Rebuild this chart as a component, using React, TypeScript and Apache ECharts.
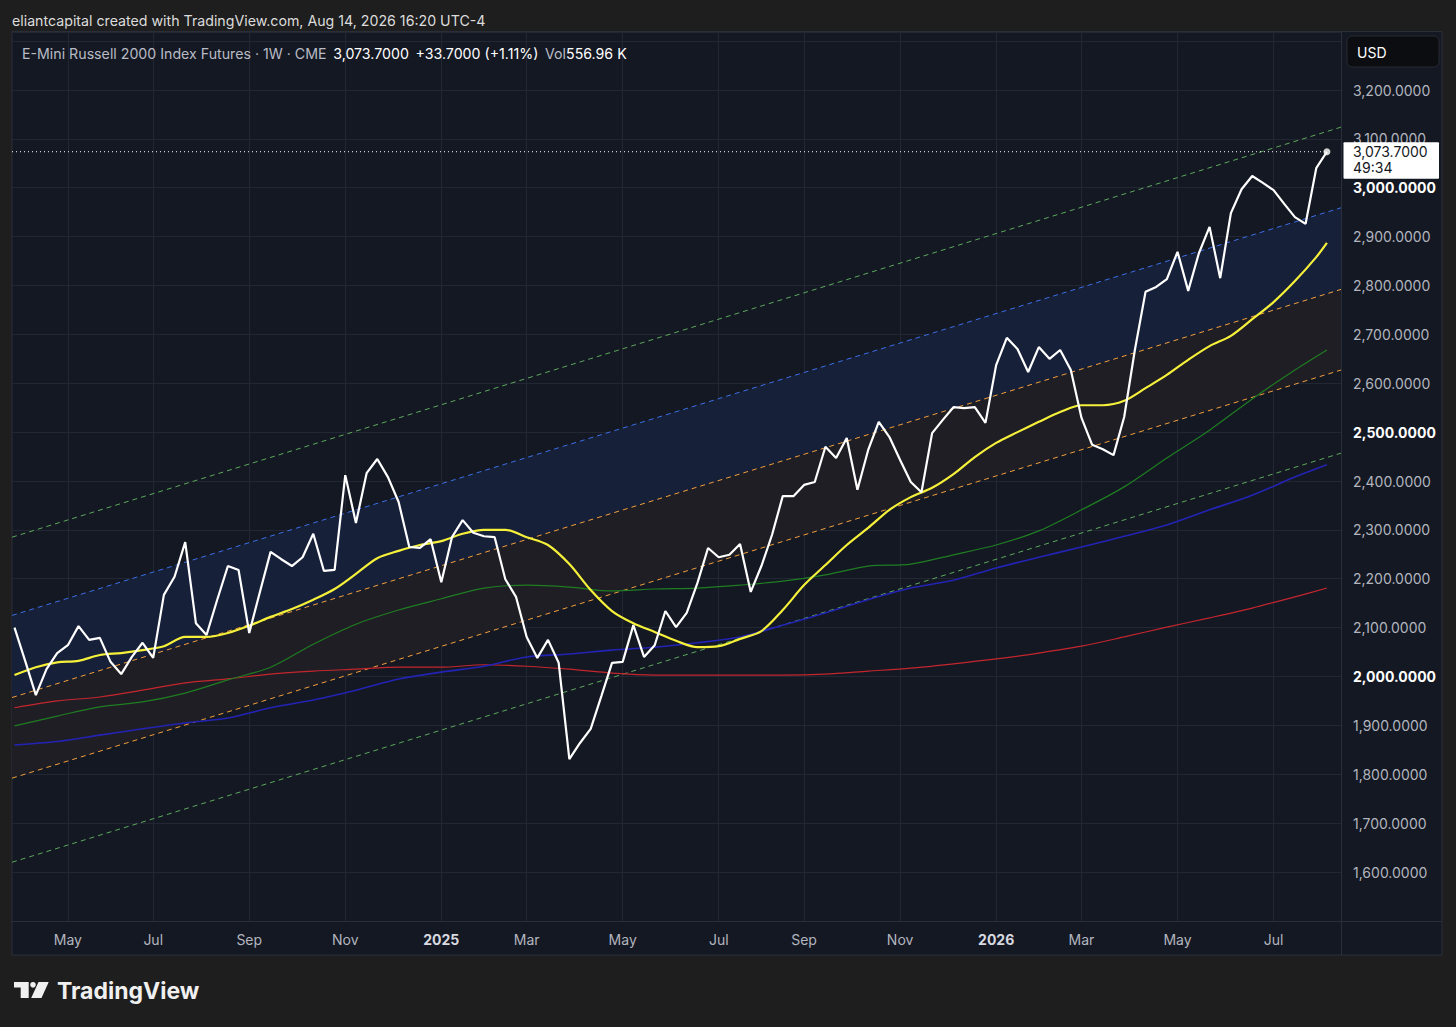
import React, { useEffect, useRef } from 'react';
import * as echarts from 'echarts';

// ---------- data ----------
const FIRST_WEEK = '2024-04-01'; // Monday of the first weekly bar (week 0)
const AXIS_START_WEEK = -0.234; // left edge of the plot, in weeks from FIRST_WEEK
const AXIS_END_WEEK = 124.32; // right edge of the plot, in weeks from FIRST_WEEK

// weekly closes, E-Mini Russell 2000 (1W)
const CLOSE = [
  2100, 2032, 1962, 2015, 2048, 2064, 2103, 2075, 2079, 2030,
  2005, 2040, 2069, 2038, 2167, 2204, 2275, 2109, 2085, 2157,
  2226, 2218, 2089, 2173, 2255, 2240, 2226, 2244, 2292, 2216,
  2218, 2412, 2314, 2416, 2445, 2408, 2357, 2265, 2263, 2281,
  2193, 2285, 2320, 2294, 2287, 2285, 2199, 2163, 2081, 2038,
  2075, 2028, 1831, 1864, 1893, 1960, 2028, 2030, 2105, 2040,
  2064, 2134, 2101, 2130, 2191, 2263, 2244, 2249, 2271, 2173,
  2226, 2290, 2369, 2369, 2392, 2398, 2470, 2447, 2488, 2382,
  2463, 2521, 2490, 2443, 2398, 2377, 2498, 2525, 2551, 2549,
  2551, 2519, 2637, 2693, 2670, 2623, 2674, 2650, 2668, 2627,
  2529, 2474, 2465, 2453, 2531, 2668, 2787, 2797, 2813, 2869,
  2789, 2866, 2920, 2815, 2948, 2997, 3024, 3010, 2995, 2967,
  2940, 2926, 3040, 3073.7,
];

// yellow MA, read every 2nd week (plus the last week)
const YELLOW_MA = [
  2003, 2019, 2029, 2032, 2044, 2048, 2054, 2062, 2081, 2081,
  2089, 2104, 2122, 2138, 2157, 2179, 2210, 2242, 2257, 2269,
  2277, 2292, 2300, 2300, 2285, 2269, 2230, 2177, 2134, 2109,
  2091, 2073, 2060, 2062, 2077, 2093, 2136, 2187, 2228, 2269,
  2304, 2341, 2367, 2386, 2414, 2449, 2478, 2500, 2521, 2541,
  2555, 2555, 2564, 2590, 2617, 2648, 2676, 2697, 2731, 2766,
  2809, 2858, 2887,
];
// slower MAs, read every 4th week (plus the last week)
const GREEN_MA = [
  1899, 1919, 1938, 1948, 1966, 1993, 2019, 2066, 2107, 2136,
  2159, 2181, 2187, 2183, 2175, 2179, 2181, 2187, 2195, 2208,
  2226, 2230, 2249, 2269, 2298, 2341, 2388, 2447, 2504, 2568,
  2627, 2668,
];
const BLUE_MA = [
  1860, 1867, 1880, 1893, 1905, 1915, 1936, 1952, 1972, 1995,
  2009, 2021, 2040, 2046, 2054, 2060, 2069, 2081, 2105, 2130,
  2157, 2181, 2197, 2222, 2244, 2265, 2287, 2310, 2341, 2371,
  2408, 2433,
];
const RED_MA = [
  1936, 1950, 1958, 1972, 1987, 1995, 2005, 2011, 2015, 2019,
  2019, 2024, 2021, 2015, 2007, 2003, 2003, 2003, 2003, 2005,
  2011, 2017, 2026, 2036, 2048, 2062, 2081, 2101, 2120, 2140,
  2163, 2181,
];

// regression-channel lines: value at the left edge, value at the right edge
const CH_GREEN_UP = [2285, 3124];
const CH_BLUE_UP = [2125, 2959];
const CH_ORANGE_UP = [1957, 2792];
const CH_ORANGE_DN = [1792, 2627];
const CH_GREEN_DN = [1620, 2457];

// time-axis labels (first weekly bar of the month)
const X_LABEL_DATES = [
  '2024-05-06', '2024-07-01', '2024-09-02', '2024-11-04', '2025-01-06', '2025-03-03', '2025-05-05',
  '2025-07-07', '2025-09-01', '2025-11-03', '2026-01-05', '2026-03-02', '2026-05-04', '2026-07-06',
];
const X_LABELS = ['May', 'Jul', 'Sep', 'Nov', '2025', 'Mar', 'May', 'Jul', 'Sep', 'Nov', '2026', 'Mar', 'May', 'Jul'];

const Y_MIN = 1500;
const Y_MAX = 3318.67;
const Y_STEP = 100;
const Y_LABEL_MIN = 1600; // lowest and highest price labels that are visible
const Y_LABEL_MAX = 3200;

// ---------- helpers ----------
const DAY = 86400000;
const T0 = Date.parse(FIRST_WEEK + 'T00:00:00Z');
const lastIdx = CLOSE.length - 1;
const lastClose = CLOSE[lastIdx];
const prevClose = CLOSE[lastIdx - 1];
// week index of each label date
const labelWeeks = X_LABEL_DATES.map((d) => Math.round((Date.parse(d + 'T00:00:00Z') - T0) / (7 * DAY)));

const sampled = (vals: number[], step: number) =>
  vals.map((v, k) => [k === vals.length - 1 ? lastIdx : k * step, v]);

const fmt4 = (v: number) =>
  v.toLocaleString('en-US', { minimumFractionDigits: 4, maximumFractionDigits: 4 });

const FONT = 'Inter, "Noto Sans", Roboto, sans-serif';

const PLOT_BG = '#141823';
const BORDER = '#2a2e39';
const GRID = '#232633';
const BAND_COLORS = ['#1f1e24', '#172039'];

function chLine(ends: number[], color: string, name: string) {
  return {
    name,
    type: 'line',
    data: [[AXIS_START_WEEK, ends[0]], [AXIS_END_WEEK, ends[1]]],
    symbol: 'none',
    silent: true,
    lineStyle: { color, width: 1, type: [5, 4] },
    z: 3,
  };
}

function buildOption() {
  const change = lastClose - prevClose;
  const pct = (change / prevClose) * 100;
  const sign = change >= 0 ? '+' : '-';

  const graphics: any[] = [
    { id: 'panel', type: 'rect', z: -10, shape: { x: 12, y: 31.5, width: 1430, height: 923.5 },
      style: { fill: PLOT_BG, stroke: BORDER, lineWidth: 1 } },
    { id: 'vdiv', type: 'line', z: 10, shape: { x1: 1341.5, y1: 32, x2: 1341.5, y2: 955 },
      style: { stroke: BORDER, lineWidth: 1 } },
    { id: 'hdiv', type: 'line', z: 10, shape: { x1: 12, y1: 921.5, x2: 1442, y2: 921.5 },
      style: { stroke: BORDER, lineWidth: 1 } },
    { id: 'hdr', type: 'text', x: 12, y: 20, z: 10,
      style: { text: 'eliantcapital created with TradingView.com, Aug 14, 2026 16:20 UTC-4',
        fill: '#dcdcdc', fontSize: 14.2, fontFamily: FONT, verticalAlign: 'middle' } },
    { id: 'legend', type: 'text', x: 22, y: 53, z: 10,
      style: {
        text: `{g|E-Mini Russell 2000 Index Futures · 1W · CME}  {w|${fmt4(lastClose)}}  {w|${sign}${fmt4(Math.abs(change))} (${sign}${Math.abs(pct).toFixed(2)}%)}  {g|Vol}{w|556.96 K}`,
        verticalAlign: 'middle',
        rich: {
          g: { fill: '#b8bbc4', fontSize: 14.2, fontFamily: FONT },
          w: { fill: '#ffffff', fontSize: 14.2, fontFamily: FONT },
        },
      } },
    { id: 'usdbox', type: 'rect', z: 10, shape: { x: 1347, y: 36, width: 92, height: 31, r: 5 },
      style: { fill: '#0c0d10', stroke: '#262a33', lineWidth: 1 } },
    { id: 'usd', type: 'text', x: 1357, y: 52, z: 11,
      style: { text: 'USD', fill: '#ffffff', fontSize: 14, fontFamily: FONT, verticalAlign: 'middle' } },
    { id: 'logoT', type: 'polygon', z: 10,
      shape: { points: [[14, 982], [28.7, 982], [28.7, 998], [20.7, 998], [20.7, 987.6], [14, 987.6]] },
      style: { fill: '#f0f0f0' } },
    { id: 'logoDot', type: 'circle', z: 10, shape: { cx: 33, cy: 984.8, r: 2.8 }, style: { fill: '#f0f0f0' } },
    { id: 'logoSlash', type: 'polygon', z: 10,
      shape: { points: [[38.5, 982], [48.7, 982], [41.5, 998], [31.2, 998]] },
      style: { fill: '#f0f0f0' } },
    { id: 'logoText', type: 'text', x: 57, y: 991, z: 10,
      style: { text: 'TradingView', fill: '#f0f0f0', fontSize: 23, fontWeight: 700, fontFamily: FONT,
        verticalAlign: 'middle' } },
  ];

  return {
    animation: false,
    backgroundColor: '#1e1e1e',
    grid: { left: 12, right: 115, top: 32, bottom: 1027 - 920.875, containLabel: false },
    xAxis: {
      type: 'value',
      min: AXIS_START_WEEK,
      max: AXIS_END_WEEK,
      axisLine: { show: false },
      axisTick: { show: false, customValues: labelWeeks },
      splitLine: { show: true, lineStyle: { color: GRID, width: 1 } },
      axisLabel: {
        customValues: labelWeeks,
        margin: 12,
        formatter: (v: number) => {
          const k = labelWeeks.indexOf(Math.round(v));
          const t = k >= 0 ? X_LABELS[k] : '';
          return /^\d{4}$/.test(t) ? `{y|${t}}` : `{m|${t}}`;
        },
        rich: {
          m: { color: '#b2b5be', fontSize: 14, fontFamily: FONT },
          y: { color: '#d8dae0', fontSize: 14, fontWeight: 'bold', fontFamily: FONT },
        },
      },
    },
    yAxis: {
      type: 'value',
      position: 'right',
      min: Y_MIN,
      max: Y_MAX,
      interval: Y_STEP,
      axisLine: { show: false },
      axisTick: { show: false },
      splitLine: { show: true, lineStyle: { color: GRID, width: 1 } },
      axisLabel: {
        margin: 12,
        showMinLabel: false,
        showMaxLabel: false,
        formatter: (v: number) => {
          if (Math.abs(v % Y_STEP) > 0.01 || v < Y_LABEL_MIN || v > Y_LABEL_MAX) return '';
          return v % 500 === 0 ? `{b|${fmt4(v)}}` : `{n|${fmt4(v)}}`;
        },
        rich: {
          n: { color: '#b2b5be', fontSize: 14, fontFamily: FONT },
          b: { color: '#ffffff', fontSize: 14, fontWeight: 'bold', fontFamily: FONT },
        },
      },
    },
    graphic: { elements: graphics },
    series: [
      {
        name: 'channel bands',
        type: 'custom',
        silent: true,
        clip: true,
        z: 1,
        data: [
          [CH_ORANGE_DN[0], CH_ORANGE_DN[1], CH_ORANGE_UP[0], CH_ORANGE_UP[1]],
          [CH_ORANGE_UP[0], CH_ORANGE_UP[1], CH_BLUE_UP[0], CH_BLUE_UP[1]],
        ],
        renderItem: (params: any, api: any) => {
          const pts = [
            api.coord([AXIS_START_WEEK, api.value(0)]),
            api.coord([AXIS_END_WEEK, api.value(1)]),
            api.coord([AXIS_END_WEEK, api.value(3)]),
            api.coord([AXIS_START_WEEK, api.value(2)]),
          ];
          return { type: 'polygon', shape: { points: pts }, style: { fill: BAND_COLORS[params.dataIndex] } };
        },
      },
      chLine(CH_GREEN_UP, '#5ca85c', 'upper 2'),
      chLine(CH_BLUE_UP, '#3b6ee6', 'upper 1'),
      chLine(CH_ORANGE_UP, '#f29f3d', 'mid up'),
      chLine(CH_ORANGE_DN, '#f29f3d', 'mid down'),
      chLine(CH_GREEN_DN, '#5ca85c', 'lower'),
      { name: 'MA red', type: 'line', data: sampled(RED_MA, 4), symbol: 'none', smooth: 0.3,
        lineStyle: { color: '#c4262e', width: 1.2 }, z: 4 },
      { name: 'MA blue', type: 'line', data: sampled(BLUE_MA, 4), symbol: 'none', smooth: 0.3,
        lineStyle: { color: '#2323b4', width: 1.6 }, z: 4 },
      { name: 'MA green', type: 'line', data: sampled(GREEN_MA, 4), symbol: 'none', smooth: 0.3,
        lineStyle: { color: '#1f7d22', width: 1.2 }, z: 4 },
      { name: 'MA yellow', type: 'line', data: sampled(YELLOW_MA, 2), symbol: 'none', smooth: 0.3,
        lineStyle: { color: '#f5f03a', width: 2.2 }, z: 5 },
      { name: 'last line', type: 'line', data: [[AXIS_START_WEEK, lastClose], [lastIdx, lastClose]],
        symbol: 'none', silent: true, lineStyle: { color: '#ffffff', width: 1, type: [1, 3] }, z: 5 },
      { name: 'Close', type: 'line', data: CLOSE.map((v, i) => [i, v]), symbol: 'none',
        lineStyle: { color: '#ffffff', width: 2.2 }, z: 6 },
      { name: 'last', type: 'scatter', data: [[lastIdx, lastClose]], symbolSize: 7,
        itemStyle: { color: '#ffffff' }, z: 7 },
    ],
  };
}

export default function App() {
  const ref = useRef<HTMLDivElement>(null);
  useEffect(() => {
    if (!ref.current) return;
    const chart = echarts.init(ref.current, null, { renderer: 'svg' });
    chart.setOption(buildOption() as any);
    const py = chart.convertToPixel({ yAxisIndex: 0 }, lastClose) as unknown as number;
    chart.setOption({
      graphic: {
        elements: [
          { id: 'tagBox', type: 'rect', z: 20, shape: { x: 1343.5, y: py - 9.5, width: 95.5, height: 36.5, r: 1 },
            style: { fill: '#ffffff' } },
          { id: 'tagPrice', type: 'text', x: 1353, y: py, z: 21,
            style: { text: fmt4(lastClose), fill: '#131722', fontSize: 14, fontFamily: FONT, verticalAlign: 'middle' } },
          { id: 'tagTime', type: 'text', x: 1353, y: py + 16, z: 21,
            style: { text: '49:34', fill: '#131722', fontSize: 14, fontFamily: FONT, verticalAlign: 'middle' } },
        ],
      },
    } as any);
    return () => chart.dispose();
  }, []);
  return (
    <div style={{ position: 'absolute', left: 0, top: 0, width: 1456, height: 1027, background: '#1e1e1e' }}>
      <div ref={ref} style={{ width: 1456, height: 1027 }} />
    </div>
  );
}
